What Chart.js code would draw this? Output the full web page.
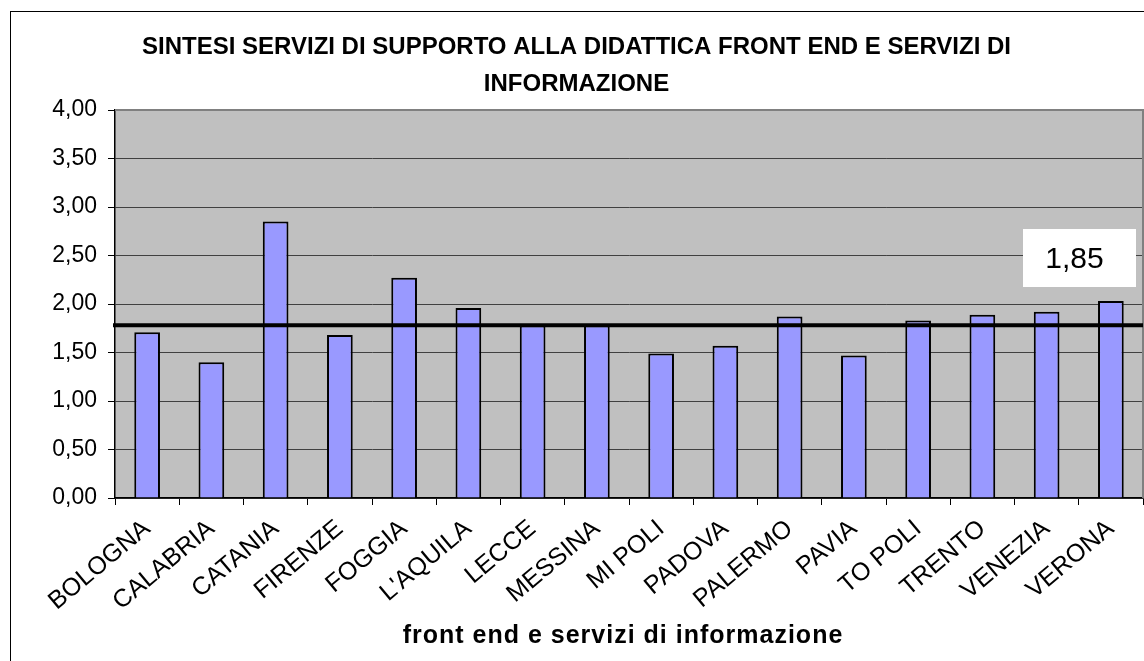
<!DOCTYPE html>
<html>
<head>
<meta charset="utf-8">
<script src="https://cdn.jsdelivr.net/npm/chart.js@4.4.1/dist/chart.umd.min.js"></script>
<style>
html,body{margin:0;padding:0;background:#fff;}
#wrap{width:1144px;height:661px;position:relative;}
canvas{display:block;}
</style>
</head>
<body>
<div id="wrap"><canvas id="c" width="1144" height="661"></canvas></div>
<script>
// ---- data ----
const categories = ['BOLOGNA','CALABRIA','CATANIA','FIRENZE','FOGGIA',"L'AQUILA",'LECCE','MESSINA','MI POLI','PADOVA','PALERMO','PAVIA','TO POLI','TRENTO','VENEZIA','VERONA'];
const values = [1.71,1.40,2.85,1.68,2.27,1.96,1.78,1.78,1.49,1.57,1.87,1.47,1.83,1.89,1.92,2.03];
const averageValue = 1.78;
const averageLabel = '1,85';
const chartTitle = ['SINTESI SERVIZI DI SUPPORTO ALLA DIDATTICA FRONT END E SERVIZI DI','INFORMAZIONE'];
const xAxisTitle = 'front end e servizi di informazione';
const yMin = 0, yMax = 4, yStep = 0.5;

const FONT = "'Liberation Sans', Arial, sans-serif";

const decorPlugin = {
  id: 'decor',
  beforeDraw(chart) {
    const {ctx, chartArea: a} = chart;
    ctx.save();
    ctx.fillStyle = '#ffffff';
    ctx.fillRect(0, 0, chart.width, chart.height);
    ctx.fillStyle = '#c0c0c0';
    ctx.fillRect(a.left, a.top, a.right - a.left, a.bottom - a.top);
    ctx.restore();
  },
  afterDatasetsDraw(chart) {
    const {ctx, chartArea: a, scales} = chart;
    ctx.save();
    // plot top/right border
    ctx.strokeStyle = '#808080';
    ctx.lineWidth = 2;
    ctx.beginPath();
    ctx.moveTo(a.left, a.top);
    ctx.lineTo(a.right, a.top);
    ctx.lineTo(a.right, a.bottom);
    ctx.stroke();
    // average line
    const yAvg = scales.y.getPixelForValue(averageValue);
    ctx.strokeStyle = '#000000';
    ctx.lineWidth = 4;
    ctx.beginPath();
    ctx.moveTo(a.left - 2, yAvg);
    ctx.lineTo(a.right, yAvg);
    ctx.stroke();
    // label box
    const bx = a.right - 120, by = a.top + 119, bw = 113, bh = 58;
    ctx.fillStyle = '#ffffff';
    ctx.fillRect(bx, by, bw, bh);
    ctx.fillStyle = '#000000';
    ctx.font = '30px ' + FONT;
    ctx.textAlign = 'center';
    ctx.textBaseline = 'middle';
    ctx.fillText(averageLabel, bx + bw / 2 - 5, by + bh / 2 + 2);
    ctx.restore();
  },
  afterDraw(chart) {
    const {ctx, scales} = chart;
    ctx.save();
    // x-axis title (letter-spaced like the original)
    const xs = scales.x;
    ctx.fillStyle = '#000000';
    ctx.font = 'bold 25px ' + FONT;
    ctx.letterSpacing = '1px';
    ctx.textAlign = 'center';
    ctx.textBaseline = 'middle';
    ctx.fillText(xAxisTitle, (xs.left + xs.right) / 2 - 6, chart.height - 25);
    ctx.letterSpacing = '0px';
    // outer border
    ctx.strokeStyle = '#000000';
    ctx.lineWidth = 1;
    ctx.strokeRect(10.5, 11.5, 3000, 3000);
    ctx.restore();
  }
};

new Chart(document.getElementById('c'), {
  type: 'bar',
  data: {
    labels: categories,
    datasets: [{
      data: values,
      backgroundColor: '#9999ff',
      borderColor: '#000000',
      borderWidth: 2,
      categoryPercentage: 1.0,
      barPercentage: 0.4
    }]
  },
  options: {
    responsive: false,
    animation: false,
    devicePixelRatio: 1,
    layout: { padding: { left: 10, right: 1, top: 0, bottom: 0 } },
    plugins: {
      legend: { display: false },
      tooltip: { enabled: false },
      title: {
        display: true,
        text: chartTitle,
        color: '#000000',
        font: { family: FONT, size: 24, weight: 'bold', lineHeight: 37/24 },
        padding: { top: 28.5, bottom: 7.5 }
      }
    },
    scales: {
      x: {
        afterFit(scale) { scale.height = 163; },
        grid: { offset: true, drawOnChartArea: false, drawTicks: true, tickLength: 7, color: '#000000', lineWidth: 1 },
        border: { color: '#000000', width: 1.5 },
        ticks: {
          autoSkip: false,
          minRotation: 40,
          maxRotation: 40,
          padding: 9,
          color: '#000000',
          font: { family: FONT, size: 25 }
        },
        title: { display: false }
      },
      y: {
        min: yMin,
        max: yMax,
        afterFit(scale) { scale.width = 105; },
        grid: { color: '#404040', lineWidth: 1, drawTicks: true, tickLength: 7, tickColor: '#000000' },
        border: { color: '#000000', width: 1.5 },
        ticks: {
          stepSize: yStep,
          padding: 11,
          color: '#000000',
          font: { family: FONT, size: 23 },
          callback: (v) => Number(v).toFixed(2).replace('.', ',')
        }
      }
    }
  },
  plugins: [decorPlugin]
});
</script>
</body>
</html>
